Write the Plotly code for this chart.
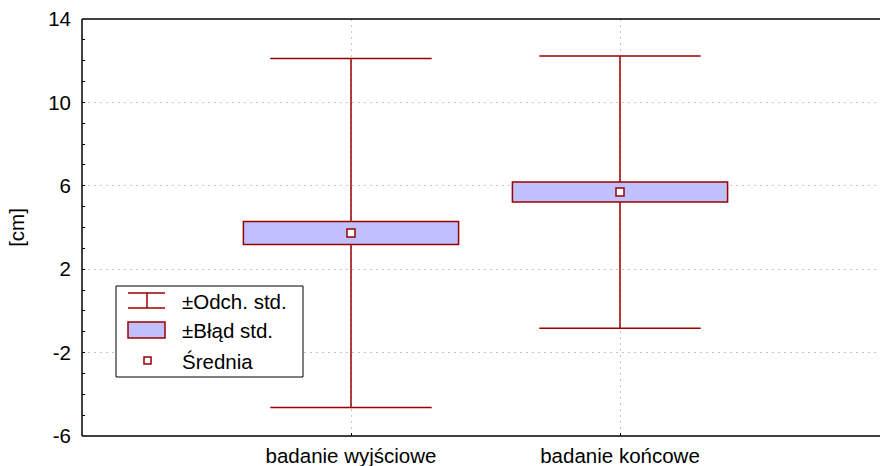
import plotly.graph_objects as go

# Summary statistics per measurement (cm)
categories = ["badanie wyjściowe", "badanie końcowe"]
means = [3.74, 5.70]
std_errs = [0.55, 0.48]
std_devs = [8.37, 6.53]

y_ticks = [-6, -2, 2, 6, 10, 14]
legend_labels = ["±Odch. std.", "±Błąd std.", "Średnia"]

DARK_RED = "#990000"
BOX_FILL = "#C0C0FF"
GRID = "#c4c4c4"
FONT = "Arial, Liberation Sans, sans-serif"
FSIZE = 20.5

W, H = 880, 466
ML, MR, MT, MB = 82, 0, 19, 30
PW, PH = W - ML - MR, H - MT - MB

x_pos = list(range(len(categories)))
BOX_W = 0.8
CAP_HALF = 0.3

fig = go.Figure()

# Whiskers (mean ± SD) drawn outside the SE box
wx, wy = [], []
for x, m, se, sd in zip(x_pos, means, std_errs, std_devs):
    wx += [x, x, None, x, x, None]
    wy += [m + se, m + sd, None, m - se, m - sd, None]
fig.add_trace(go.Scatter(x=wx, y=wy, mode="lines",
                         line=dict(color=DARK_RED, width=1.5),
                         hoverinfo="skip", showlegend=False))

# Whisker caps
cx, cy = [], []
for x, m, sd in zip(x_pos, means, std_devs):
    for y in (m + sd, m - sd):
        cx += [x - CAP_HALF, x + CAP_HALF, None]
        cy += [y, y, None]
fig.add_trace(go.Scatter(x=cx, y=cy, mode="lines",
                         line=dict(color=DARK_RED, width=1.5),
                         hoverinfo="skip", showlegend=False))

# Standard-error boxes
fig.add_trace(go.Bar(
    x=x_pos,
    y=[2 * se for se in std_errs],
    base=[m - se for m, se in zip(means, std_errs)],
    width=BOX_W,
    marker=dict(color=BOX_FILL, line=dict(color=DARK_RED, width=1.5)),
    showlegend=False, hoverinfo="skip",
))

# Means
fig.add_trace(go.Scatter(
    x=x_pos, y=means, mode="markers",
    marker=dict(symbol="square", size=8, color="white",
                line=dict(color=DARK_RED, width=1.5)),
    showlegend=False,
))


# Custom legend, positioned in pixel terms inside the plot area
def px(x):
    return (x - ML) / PW


def py(y):
    return (H - MB - y) / PH


frame = dict(color="black", width=1.5)
shapes = [
    # keep the right-hand side of the plot area open
    dict(type="line", xref="paper", yref="paper", x0=1, x1=1, y0=0.003, y1=0.997,
         line=dict(color="white", width=6), layer="above"),
    # plot frame: left, bottom, top
    dict(type="line", xref="paper", yref="paper", x0=0, x1=0, y0=0, y1=1,
         line=frame, layer="above"),
    dict(type="line", xref="paper", yref="paper", x0=0, x1=1, y0=0, y1=0,
         line=frame, layer="above"),
    dict(type="line", xref="paper", yref="paper", x0=0, x1=1, y0=1, y1=1,
         line=frame, layer="above"),
    # legend frame
    dict(type="rect", xref="paper", yref="paper",
         x0=px(116), x1=px(303), y0=py(377), y1=py(286),
         line=dict(color="black", width=1), fillcolor="white", layer="above"),
    # error-bar symbol
    dict(type="line", xref="paper", yref="paper",
         x0=px(128), x1=px(165), y0=py(293), y1=py(293),
         line=dict(color=DARK_RED, width=1.5), layer="above"),
    dict(type="line", xref="paper", yref="paper",
         x0=px(128), x1=px(165), y0=py(308), y1=py(308),
         line=dict(color=DARK_RED, width=1.5), layer="above"),
    dict(type="line", xref="paper", yref="paper",
         x0=px(147), x1=px(147), y0=py(293), y1=py(308),
         line=dict(color=DARK_RED, width=1.5), layer="above"),
    # box symbol
    dict(type="rect", xref="paper", yref="paper",
         x0=px(128), x1=px(165), y0=py(338), y1=py(322),
         line=dict(color=DARK_RED, width=1.5), fillcolor=BOX_FILL, layer="above"),
    # mean symbol
    dict(type="rect", xref="paper", yref="paper",
         x0=px(144), x1=px(151), y0=py(364), y1=py(357),
         line=dict(color=DARK_RED, width=1.5), fillcolor="white", layer="above"),
]

annotations = []
for label, yc in zip(legend_labels, [301, 330, 361]):
    annotations.append(dict(
        text=label, xref="paper", yref="paper", x=px(180), y=py(yc),
        xanchor="left", yanchor="middle", showarrow=False,
        font=dict(family=FONT, size=FSIZE, color="black"),
    ))

fig.update_layout(
    width=W, height=H,
    margin=dict(l=ML, r=MR, t=MT, b=MB, pad=0),
    paper_bgcolor="white", plot_bgcolor="white",
    font=dict(family=FONT, size=FSIZE, color="black"),
    shapes=shapes, annotations=annotations,
    showlegend=False,
)

fig.update_xaxes(
    range=[-1, (W - ML) / 269 - 1],
    tickvals=x_pos, ticktext=categories,
    ticks="inside", ticklen=3, tickcolor="black",
    showgrid=True, gridcolor=GRID, griddash="2px,4px", gridwidth=1,
    showline=False, zeroline=False, ticklabelstandoff=5,
)

fig.update_yaxes(
    range=[-6, 14],
    tickvals=y_ticks, ticktext=[str(v) for v in y_ticks],
    ticks="inside", ticklen=3, tickcolor="black",
    minor=dict(dtick=1, tick0=-6, ticks="inside", ticklen=3, tickcolor="black",
               showgrid=False),
    showgrid=True, gridcolor=GRID, griddash="2px,4px", gridwidth=1,
    showline=False, zeroline=False, ticklabelstandoff=10,
    title=dict(text="[cm]", standoff=18, font=dict(family=FONT, size=FSIZE)),
)

fig.write_html("out.html")
